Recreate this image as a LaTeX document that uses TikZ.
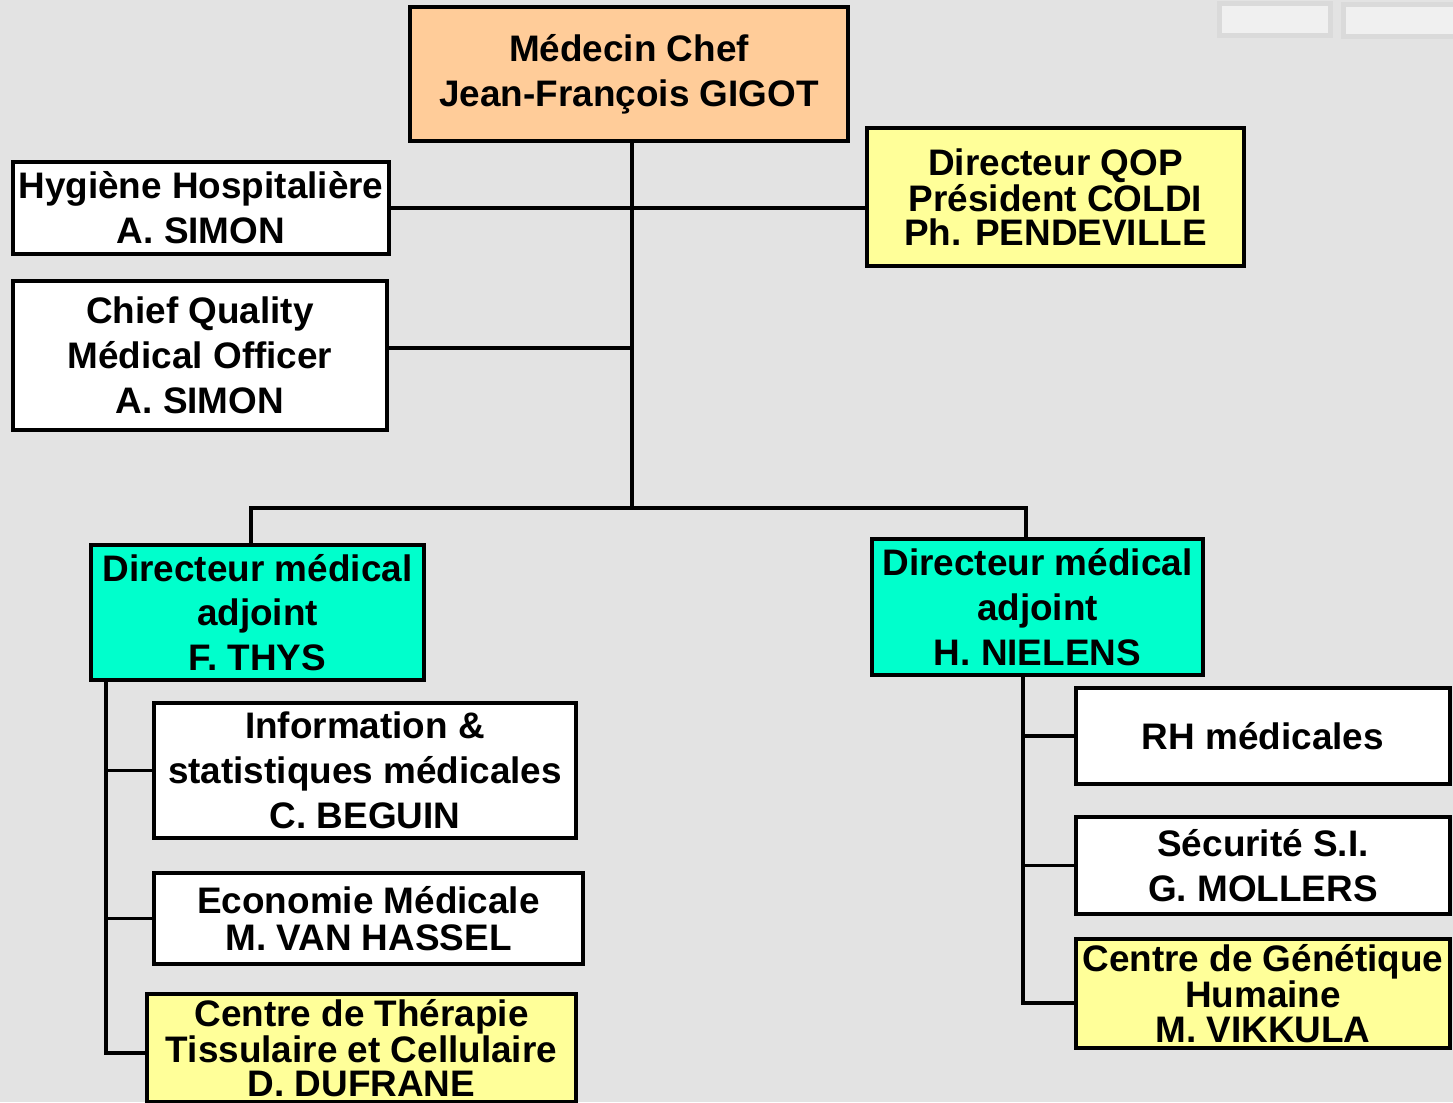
\documentclass[tikz,border=0pt]{standalone}
\usepackage{fontspec}
\setmainfont{Liberation Sans}
\usepackage{tikz}
\usetikzlibrary{calc}
\definecolor{bgcol}{HTML}{E3E3E3}
\definecolor{peach}{HTML}{FFCC99}
\definecolor{paleyellow}{HTML}{FFFF99}
\definecolor{turq}{HTML}{00FFCC}
\definecolor{tabfill}{HTML}{F0F0F0}
\definecolor{tabedge}{HTML}{DADADA}
\tikzstyle{block} = [draw, line width=2.2pt, rectangle, inner sep=0pt,
    align=center, fill=white, font=\bfseries\fontsize{21}{25.5}\selectfont]
\tikzstyle{tight} = [font=\bfseries\fontsize{21}{19.5}\selectfont]
\tikzstyle{link} = [line width=1.9pt]

\begin{document}
\begin{tikzpicture}
    % page and background
    \useasboundingbox (0,0) rectangle (29.06,-22.04);
    \fill[bgcol] (0,0) rectangle (29.06,-22.04);
    \draw[tabedge, fill=tabfill, line width=2.8pt] (24.39,-0.07) rectangle (26.61,-0.71);
    \draw[tabedge, fill=tabfill, line width=2.8pt] (26.87,-0.09) rectangle (29.20,-0.73);

    % We start by placing the blocks
    \node [block, fill=peach, minimum width=8.76cm, minimum height=2.68cm] (chef) at (12.58,-1.48)
        {M\'edecin Chef\\Jean-Fran\c{c}ois GIGOT};
    \node [block, minimum width=7.52cm, minimum height=1.84cm] (hygiene) at (4.02,-4.16)
        {Hygi\`ene Hospitali\`ere\\A. SIMON};
    \node [block, minimum width=7.48cm, minimum height=2.98cm] (quality) at (4.00,-7.11)
        {Chief Quality\\M\'edical Officer\\A. SIMON};
    \node [block, tight, fill=paleyellow, minimum width=7.54cm, minimum height=2.76cm] (qop) at (21.11,-3.94)
        {Directeur QOP\\Pr\'esident COLDI\\Ph. PENDEVILLE};
    \node [block, fill=turq, minimum width=6.66cm, minimum height=2.70cm] (thys) at (5.15,-12.25)
        {Directeur m\'edical\\adjoint\\F. THYS};
    \node [block, fill=turq, minimum width=6.62cm, minimum height=2.72cm] (nielens) at (20.75,-12.14)
        {Directeur m\'edical\\adjoint\\H. NIELENS};
    \node [block, minimum width=8.44cm, minimum height=2.70cm] (info) at (7.30,-15.41)
        {Information \&\\statistiques m\'edicales\\C. BEGUIN};
    \node [block, font=\bfseries\fontsize{21}{21}\selectfont, minimum width=8.58cm, minimum height=1.82cm] (eco) at (7.37,-18.37)
        {Economie M\'edicale\\M. VAN HASSEL};
    \node [block, tight, fill=paleyellow, minimum width=8.58cm, minimum height=2.16cm] (therapie) at (7.23,-20.96)
        {Centre de Th\'erapie\\Tissulaire et Cellulaire\\D. DUFRANE};
    \node [block, minimum width=7.48cm, minimum height=1.92cm] (rh) at (25.26,-14.72)
        {RH m\'edicales};
    \node [block, minimum width=7.48cm, minimum height=1.94cm] (secu) at (25.26,-17.31)
        {S\'ecurit\'e S.I.\\G. MOLLERS};
    \node [block, tight, fill=paleyellow, minimum width=7.48cm, minimum height=2.18cm] (genetique) at (25.26,-19.87)
        {Centre de G\'en\'etique\\Humaine\\M. VIKKULA};

    % junction points of the tree
    \coordinate (trunk) at (12.64,-10.16);
    \coordinate (barL) at (5.02,-10.16);
    \coordinate (barR) at (20.52,-10.16);
    \coordinate (leftbus) at (2.12,0);
    \coordinate (rightbus) at (20.46,0);

    % Once the nodes are placed, connecting them is easy.
    \draw [link] (chef.south -| trunk) -- (trunk);
    \draw [link] (hygiene.east) -- (hygiene.east -| qop.west);
    \draw [link] ([yshift=0.15cm]quality.east) -- ([yshift=0.15cm]quality.east -| trunk);
    \draw [link] (thys.north -| barL) -- (barL) -- (barR) -- (nielens.north -| barR);
    \draw [link] (thys.south -| leftbus) |- ([yshift=-0.1cm]therapie.west);
    \draw [link] (info.west -| leftbus) -- (info.west);
    \draw [link] (eco.west -| leftbus) -- (eco.west);
    \draw [link] (nielens.south -| rightbus) |- ([yshift=-0.19cm]genetique.west);
    \draw [link] (rh.west -| rightbus) -- (rh.west);
    \draw [link] (secu.west -| rightbus) -- (secu.west);
\end{tikzpicture}
\end{document}
